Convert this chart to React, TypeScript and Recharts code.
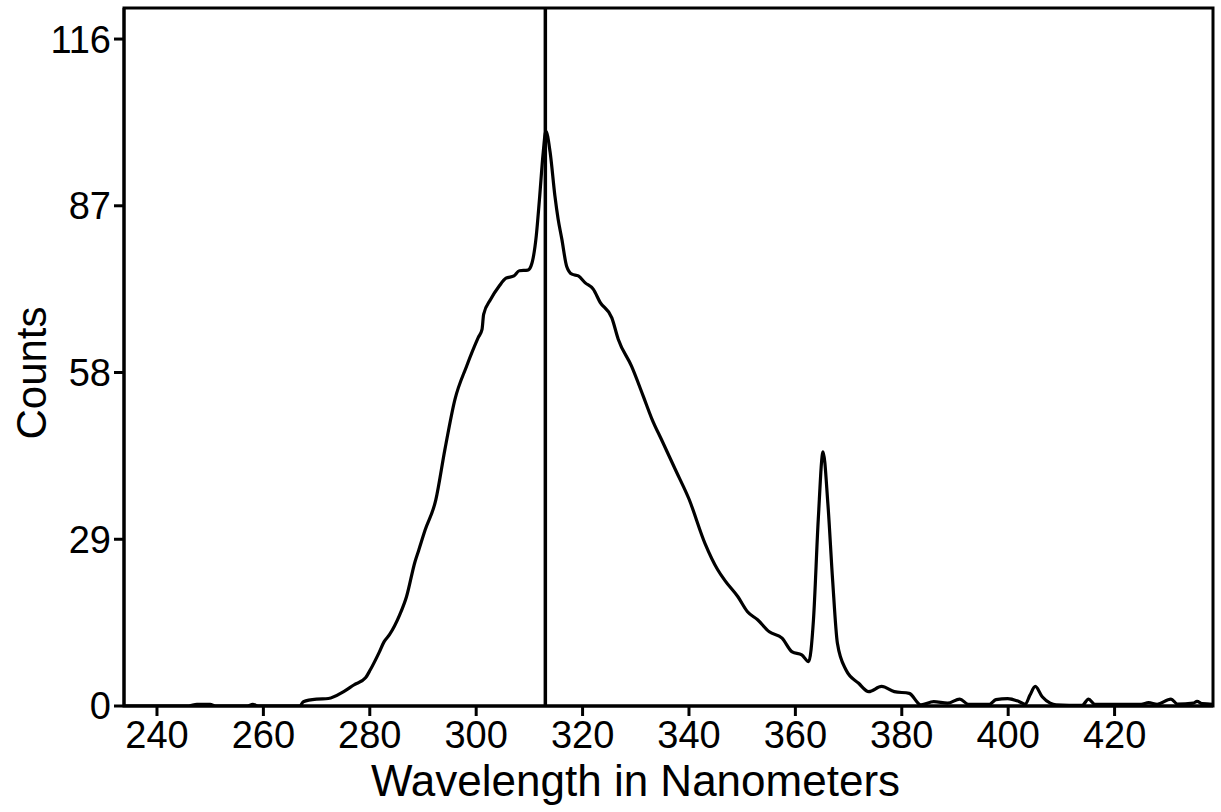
import React from "react";
import { LineChart, Line, XAxis, YAxis, ReferenceLine, ReferenceArea } from "recharts";

// spectrum (nm, counts)
const wavelength = [
  233.8, 240, 246, 247.5, 250, 251, 257, 258, 259, 266.9, 267.5, 270, 272.2, 275.1, 277,
  279.2, 280.1, 281.7, 282.7, 283.7, 285.6, 286.9, 288.5, 289.2, 290.4, 292.4, 294.1, 296,
  298.2, 300.4, 301.1, 301.4, 302.7, 304.3, 305.6, 307.1, 308.1, 309.7, 310.3, 311.3, 311.9,
  312.6, 313.1, 313.9, 314.8, 315.4, 316.1, 317, 318, 319.2, 320.5, 322, 323.3, 325.5, 326.7,
  329.2, 331.4, 333, 335, 337.5, 340, 343, 345.4, 346.7, 349.2, 351, 352.9, 355.1, 357.5,
  359.4, 361.2, 362.5, 363.4, 364.3, 365.2, 366.1, 367, 367.9, 369.5, 371.9, 373.8, 376.2,
  378.6, 381.4, 383.6, 386, 388.6, 390.9, 392.5, 396.5, 397.7, 399.9, 402, 403.2, 404.1,
  405.1, 406.4, 407.9, 409, 413.9, 415.1, 416.3, 425, 426.4, 428, 430.6, 431.8, 434.8, 435.5,
  436.5, 438.5,
];
const counts = [
  0, 0, 0, 0.3, 0.3, 0, 0, 0.3, 0, 0, 0.75, 1.2, 1.3, 2.5, 3.65,
  4.9, 6.3, 9.2, 11.2, 12.4, 15.8, 19, 25.1, 27.1, 30.6, 35.8, 44.5, 53.3,
  59.1, 64.1, 65.5, 68.1, 70.7, 73, 74.4, 74.8, 75.7, 75.8, 76.5, 81.8, 88.2,
  96.3, 100, 96.3, 88.7, 84.7, 81.2, 76.5, 75.1, 74.8, 73.6, 72.5, 70.2, 67.5, 63.8,
  59.1, 53.9, 50, 46, 41, 36, 28.3, 23.7, 21.9, 19, 16.4, 15, 12.9, 11.8,
  9.4, 8.9, 7.7, 15, 32.4, 44.2, 35.3, 21.9, 10.9, 6.3, 3.95, 2.5, 3.4,
  2.5, 2.2, 0.2, 0.75, 0.5, 1.2, 0.3, 0.3, 1.1, 1.3, 0.8, 0.3, 1.9,
  3.4, 1.6, 0.5, 0.2, 0.1, 1.2, 0.3, 0.3, 0.6, 0.3, 1.2, 0.35, 0.5, 0.8,
  0.4, 0.3,
];

const xTicks = [240, 260, 280, 300, 320, 340, 360, 380, 400, 420];
const yTicks = [0, 29, 58, 87, 116];
const xDomain = [233.8, 438.5];
const yDomain = [0, 121.4];
const markerNm = 313;

const data = wavelength.map((w, i) => ({ w, c: counts[i] }));

const font = "'Liberation Sans', Arial, sans-serif";

export default function App() {
  return (
    <div style={{ position: "absolute", left: 0, top: 0, background: "#fff" }}>
      <LineChart width={1221} height={812} data={data} margin={{ top: 8, right: 8, bottom: 0, left: 0 }}>
        <XAxis
          type="number"
          dataKey="w"
          domain={xDomain}
          ticks={xTicks}
          allowDataOverflow
          height={106}
          tickSize={10}
          tickMargin={5}
          stroke="#000"
          strokeWidth={3}
          tick={{ fill: "#000", fontSize: 38, fontFamily: font }}
          label={{
            content: ({ viewBox }: any) => (
              <text
                x={viewBox.x + viewBox.width / 2 - 33}
                y={796}
                textAnchor="middle"
                fontSize={44}
                fontFamily={font}
                fill="#000"
              >
                Wavelength in Nanometers
              </text>
            ),
          }}
        />
        <YAxis
          type="number"
          domain={yDomain}
          ticks={yTicks}
          allowDataOverflow
          width={124}
          tickSize={10}
          tickMargin={3}
          stroke="#000"
          strokeWidth={3}
          tick={{ fill: "#000", fontSize: 38, fontFamily: font }}
          label={{
            content: ({ viewBox }: any) => (
              <text
                x={0}
                y={0}
                transform={`translate(46, ${viewBox.y + viewBox.height / 2 + 16}) rotate(-90)`}
                textAnchor="middle"
                fontSize={42}
                fontFamily={font}
                fill="#000"
              >
                Counts
              </text>
            ),
          }}
        />
        <ReferenceArea
          x1={xDomain[0]}
          x2={xDomain[1]}
          y1={yDomain[0]}
          y2={yDomain[1]}
          fill="none"
          stroke="#000"
          strokeWidth={3}
          fillOpacity={0}
          ifOverflow="visible"
        />
        <ReferenceLine x={markerNm} stroke="#000" strokeWidth={3.5} />
        <Line
          type="monotone"
          dataKey="c"
          stroke="#000"
          strokeWidth={3.2}
          dot={false}
          isAnimationActive={false}
        />
      </LineChart>
    </div>
  );
}
